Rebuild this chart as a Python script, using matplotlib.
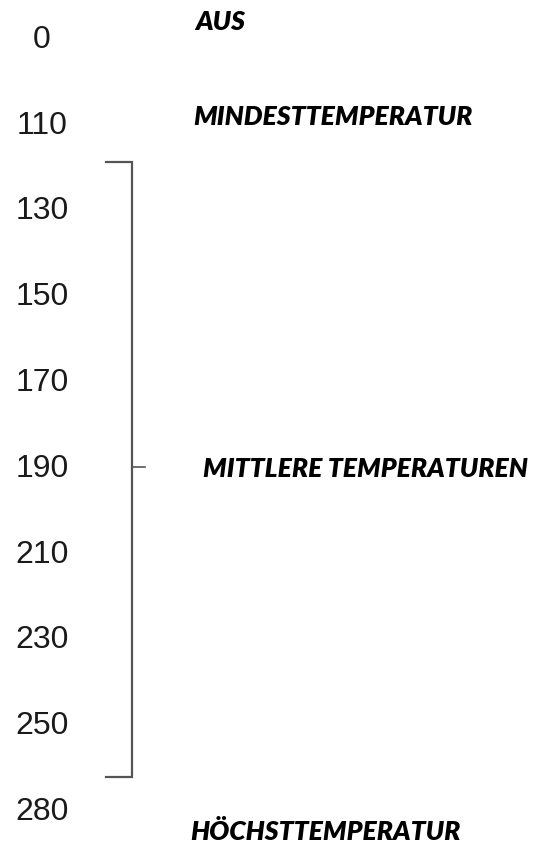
import matplotlib
matplotlib.use("Agg")
import matplotlib.pyplot as plt

# Data
temperatures = [0, 110, 130, 150, 170, 190, 210, 230, 250, 280]
labels = ["AUS", "MINDESTTEMPERATUR", "MITTLERE TEMPERATUREN", "HÖCHSTTEMPERATUR"]
label_rows = [-0.19, 0.92, 5.02, 9.25]      # row positions of the labels
label_x = [195, 193, 203, 190]              # left edges of the labels (px)
bracket_span = [1.45, 8.61]                 # rows spanned by the bracket (130..250)
bracket_mid = 5                             # row of the middle tick (190)

W, H = 533, 843
fig = plt.figure(figsize=(W / 100, H / 100), dpi=100)
ax = fig.add_axes([0, 0, 1, 1])
ax.set_xlim(0, W)
row_px = 85.8
top_px = 38
ax.set_ylim((H - top_px) / row_px, -top_px / row_px)
ax.axis("off")

for i, t in enumerate(temperatures):
    ax.text(42, i + 0.02, str(t), ha="center", va="center", fontsize=23,
            family="Liberation Sans", color="#1a1a1a")

for lab, r, x in zip(labels, label_rows, label_x):
    ax.text(x, r, lab, ha="left", va="center", fontsize=19.1,
            family="Lato", fontweight="heavy", fontstyle="italic", color="black")

lc = "#555555"
ax.plot([106, 132, 132, 106], [bracket_span[0], bracket_span[0], bracket_span[1], bracket_span[1]],
        color=lc, lw=1.6, solid_joinstyle="miter")
ax.plot([132, 145], [bracket_mid, bracket_mid], color=lc, lw=1.2)

fig.savefig("out.png", dpi=100)
